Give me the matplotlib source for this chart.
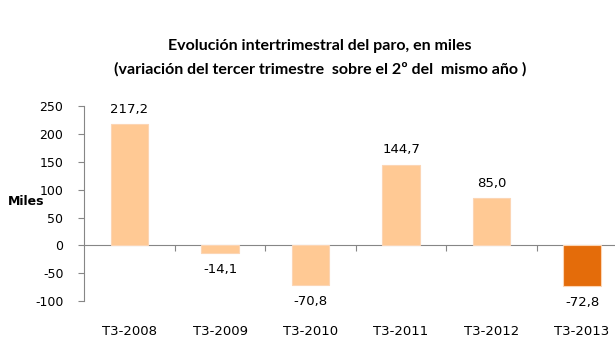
import matplotlib.pyplot as plt
import numpy as np

plt.rcParams["axes.unicode_minus"] = False

# data
periods = ["T3-2008", "T3-2009", "T3-2010", "T3-2011", "T3-2012", "T3-2013"]
values = [217.2, -14.1, -70.8, 144.7, 85.0, -72.8]
value_labels = ["217,2", "-14,1", "-70,8", "144,7", "85,0", "-72,8"]

light = "#FFC994"
dark = "#E46C0A"
colors = [light] * 5 + [dark]
grey = "#868686"

fig = plt.figure(figsize=(6.15, 3.56), dpi=100)
ax = fig.add_axes([0.137, 0.154, 0.883, 0.548])

x = np.arange(len(periods))
ax.bar(x, values, width=0.41, color=colors, edgecolor="#FCD5B4", linewidth=0.8, zorder=2)

ax.set_xlim(-0.5, 5.5)
ax.set_ylim(-100, 250)
ax.set_yticks(np.arange(-100, 251, 50))
ax.tick_params(axis="y", direction="out", length=4, color=grey, labelsize=9, pad=11)

ax.spines["top"].set_visible(False)
ax.spines["right"].set_visible(False)
ax.spines["bottom"].set_visible(False)
ax.spines["left"].set_color(grey)

# category labels under the plot
ax.set_xticks(x)
ax.set_xticklabels(periods, fontsize=9.5)
ax.tick_params(axis="x", length=0, pad=17)

# zero line with category separators
zero_ax = ax.secondary_xaxis(100 / 350)
zero_ax.spines["bottom"].set_color(grey)
zero_ax.set_xticks(x[:-1] + 0.5)
zero_ax.set_xticklabels([])
zero_ax.tick_params(axis="x", direction="out", length=4, color=grey)

# value labels
for xi, v, t in zip(x, values, value_labels):
    if v >= 0:
        ax.annotate(t, (xi, v), xytext=(0, 6), textcoords="offset points",
                    ha="center", va="bottom", fontsize=9.5)
    else:
        ax.annotate(t, (xi, v), xytext=(0, -7), textcoords="offset points",
                    ha="center", va="top", fontsize=9.5)

fig.text(0.013, 0.435, "Miles", fontsize=9, fontweight="bold", ha="left", va="center")

fig.text(0.52, 0.87, "Evolución intertrimestral del paro, en miles",
         fontsize=11.5, fontweight="bold", ha="center", va="center", family="Lato")
fig.text(0.52, 0.805, "(variación del tercer trimestre  sobre el 2º del  mismo año )",
         fontsize=11.5, fontweight="bold", ha="center", va="center", family="Lato")

fig.savefig("out.png", dpi=100)
